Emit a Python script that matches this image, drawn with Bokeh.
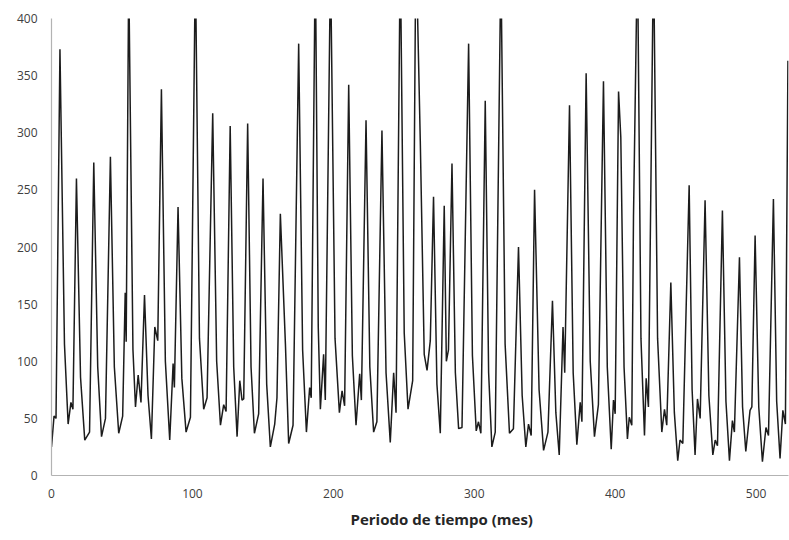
from bokeh.plotting import figure
from bokeh.models import Range1d, FixedTicker, Title, ColumnDataSource
from bokeh.embed import file_html
from bokeh.resources import INLINE

# Time series (month, value): peaks, troughs, shoulders
months = [0, 1.8, 3.2, 6, 11.8, 13.8, 15.2, 17.7, 23.6, 27, 30, 35.5, 38.3, 41.8,
          47.7, 50.5, 52.3, 53, 54.8, 59.6, 61.5, 63.5, 66, 70.9, 73.3, 75.4, 78,
          83.9, 86.3, 87.2, 89.8, 95.5, 98.6, 102.1, 108, 110.4, 114.4, 119.9, 122.2,
          123.9, 126.8, 131.7, 133.6, 135.2, 136.4, 139.2, 144, 147, 150.1, 155.3,
          158.4, 160, 162.4, 166, 168.3, 171.4, 175.4, 180.9, 183.2, 184.3, 187.2,
          190.8, 193.1, 194.3, 198, 204.3, 206.2, 208, 210.9, 216.1, 218.7, 219.9,
          223.2, 228.6, 230.9, 234.5, 240.4, 242.8, 244.5, 247.5, 253, 256.3, 258.6,
          261.7, 264.5, 266.5, 268.8, 271.1, 275.9, 278.7, 280.2, 281.7, 284.2, 288.9,
          291.3, 296, 301.4, 303, 304.7, 307.8, 312.5, 314.9, 318.9, 325, 327.8,
          331.4, 336.6, 338.5, 340.4, 342.8, 349.2, 352.3, 355.5, 360.3, 363, 364.2,
          367.6, 372.8, 375.2, 376.4, 379.4, 385.3, 388.1, 391.7, 397.2, 398.8, 400,
          402.4, 404, 408.7, 410, 411.8, 413, 415.8, 420.8, 422, 423.6, 427.2, 433.1,
          435, 436.6, 439.5, 444.4, 446, 448, 452.5, 456.7, 458.4, 460.3, 463.8,
          469.3, 471, 472.6, 476.1, 481.1, 483.2, 484.6, 488.2, 492.7, 495.7, 497,
          499.3, 504.5, 507, 508.8, 512.3, 517, 519, 520.8, 522.6]
values = [25, 52, 50, 373, 45, 64, 58, 260, 31, 38, 274, 34, 50, 279,
          37, 52, 160, 117, 440, 60, 88, 64, 158, 32, 130, 118, 338,
          31, 98, 77, 235, 38, 51, 450, 58, 68, 317, 44, 62,
          56, 306, 34, 83, 66, 67, 308, 37, 54, 260, 25,
          45, 68, 229, 115, 28, 44, 378, 38, 77, 68, 460,
          58, 106, 66, 450, 55, 74, 61, 342, 44, 89, 66,
          311, 38, 47, 302, 29, 90, 55, 460, 58, 83, 470,
          293, 106, 92, 118, 244, 37, 236, 100, 110, 273, 41,
          42, 378, 39, 47, 37, 328, 25, 38, 450, 37, 41,
          200, 25, 45, 35, 250, 22, 38, 153, 18, 130, 90,
          324, 27, 64, 47, 352, 34, 62, 345, 23, 66, 54,
          336, 296, 32, 51, 44, 226, 460, 35, 85, 60, 460, 38,
          58, 44, 169, 13, 31, 28, 254, 18, 67, 50, 241,
          18, 31, 26, 232, 13, 48, 38, 191, 21, 57, 60,
          210, 12, 42, 35, 242, 15, 57, 45, 363]

# Points on the falling side of each peak, where the line bends toward the trough
knee_months = [9.2, 20.6, 32.8, 44.6, 57.8, 68.5, 80.8, 92.5, 105, 117.2, 129.3,
               141.6, 152.7, 178.2, 189.3, 201.2, 213.5, 225.9, 237.4, 250.3,
               273.5, 286.6, 298.7, 310.2, 321.9, 334, 346, 357.9, 370.2, 382.3,
               394.4, 406.3, 418.3, 430.1, 442, 454.6, 466.5, 478.6, 490.4, 501.9,
               514.6]
knee_values = [115, 86, 95, 95, 110, 70, 100, 85, 120, 100, 95,
               95, 80, 110, 130, 120, 105, 95, 90, 125,
               80, 90, 105, 90, 115, 70, 75, 55, 90, 100,
               95, 95, 120, 120, 55, 75, 70, 65, 60, 60,
               65]

x_ticks = [0, 100, 200, 300, 400, 500]
y_ticks = [0, 50, 100, 150, 200, 250, 300, 350, 400]
x_title = "Periodo de tiempo (mes)"

pairs = sorted(zip(months + knee_months, values + knee_values))
src = ColumnDataSource(dict(x=[a for a, _ in pairs], y=[b for _, b in pairs]))

p = figure(width=789, height=540, output_backend="svg", toolbar_location=None,
           x_range=Range1d(0, 523), y_range=Range1d(0, 400),
           min_border_left=51, min_border_right=1, min_border_top=18,
           min_border_bottom=65)
p.outline_line_color = None
p.xgrid.grid_line_color = None
p.ygrid.grid_line_color = None
p.background_fill_color = "white"
p.border_fill_color = "white"

p.line("x", "y", source=src, line_color="#1c1c1c", line_width=1.5)

for ax in (p.xaxis[0], p.yaxis[0]):
    ax.axis_line_color = "#b3b3b3"
    ax.axis_line_width = 1.2
    ax.major_tick_line_color = None
    ax.minor_tick_line_color = None
    ax.major_tick_out = 0
    ax.major_tick_in = 0
    ax.major_label_text_font = "Open Sans"
    ax.major_label_text_font_size = "12px"
    ax.major_label_text_color = "#404040"

p.xaxis[0].ticker = FixedTicker(ticks=x_ticks)
p.yaxis[0].ticker = FixedTicker(ticks=y_ticks)
p.xaxis[0].major_label_standoff = 13
p.yaxis[0].major_label_standoff = 14

t = Title(text=x_title, align="left", offset=299, text_font="Open Sans",
          text_font_size="15px", text_font_style="bold", text_color="#262626",
          standoff=12)
p.add_layout(t, "below")

open("out.html", "w").write(file_html(p, INLINE))
